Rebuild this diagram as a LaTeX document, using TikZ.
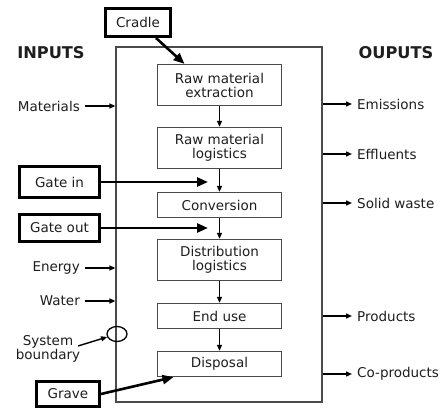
\documentclass[tikz,border=0pt]{standalone}
\usepackage{fontspec}
\setmainfont{DejaVu Sans}
\usetikzlibrary{arrows.meta,shapes.geometric}
\definecolor{boxline}{HTML}{4A4A4A}
\definecolor{ink}{HTML}{1E1E1E}
\tikzset{
  txt/.style={font=\fontsize{13.5}{14}\selectfont, text=ink, inner sep=0pt},
  head/.style={font=\fontsize{16.2}{18}\selectfont\bfseries, text=ink, inner sep=0pt},
  stage/.style={txt, draw=boxline, line width=1.2pt, minimum width=124pt, align=center},
  phase/.style={txt, draw=black, line width=3pt, align=center},
  flow/.style={draw=black, line width=1.4pt, -{Triangle[length=6pt,width=5pt]}},
  bigflow/.style={draw=black, line width=2.6pt, -{Triangle[length=11pt,width=9pt]}},
}
\begin{document}
\begin{tikzpicture}[x=1pt,y=-1pt]
\useasboundingbox (0,0) rectangle (440,409);
\fill[white] (0,0) rectangle (440,409);

% system boundary
\node[draw=boxline, line width=1.2pt, minimum width=206pt, minimum height=355pt, inner sep=0pt] (sys) at (219,224.5) {};

% life-cycle stages
\node[stage, minimum height=41pt] (ext)  at (219.5,85)  {Raw material\\extraction};
\node[stage, minimum height=41pt] (log)  at (219.5,148) {Raw material\\logistics};
\node[stage, minimum height=25pt] (conv) at (219.5,205) {Conversion};
\node[stage, minimum height=41pt] (dist) at (219.5,260) {Distribution\\logistics};
\node[stage, minimum height=25pt] (use)  at (219.5,316) {End use};
\node[stage, minimum height=25pt] (disp) at (219.5,364) {Disposal};

\draw[flow] (ext)  -- (log);
\draw[flow] (log)  -- (conv);
\draw[flow] (conv) -- (dist);
\draw[flow] (dist) -- (use);
\draw[flow] (use)  -- (disp);

% headings
\node[head] (inh)  at (51,53)  {INPUTS};
\node[head] (outh) at (396,53) {OUPUTS};

% inputs
\node[txt, anchor=east] (mat) at (80,106) {Materials};
\node[txt, anchor=east] (eng) at (80,268) {Energy};
\node[txt, anchor=east] (wat) at (80,301) {Water};
\foreach \n in {mat,eng,wat}
  \draw[flow] ([xshift=5pt]\n.east) -- (\n.east -| sys.west);

% outputs
\node[txt, anchor=west] (emi) at (357,104) {Emissions};
\node[txt, anchor=west] (eff) at (357,154) {Effluents};
\node[txt, anchor=west] (sol) at (357,203) {Solid waste};
\node[txt, anchor=west] (pro) at (357,316) {Products};
\node[txt, anchor=west] (cop) at (357,374) {Co-products};
\foreach \n in {emi,eff,sol,pro,cop}
  \draw[flow] (\n.west -| sys.east) -- ([xshift=-5pt]\n.west);

% system boundary marker
\node[draw=black, line width=1.3pt, ellipse, minimum width=20pt, minimum height=15pt, inner sep=0pt] (bnd) at (117,334) {};
\node[txt, align=center] (sbl) at (48,349) {System\\boundary};
\coordinate (sbtail) at (78,346);
\draw[flow] (sbtail) -- (bnd);

% scope boundaries
\node[phase, minimum width=65pt, minimum height=28pt] (cradle)  at (138,22.5) {Cradle};
\node[phase, minimum width=80pt, minimum height=31pt] (gatein)  at (59.5,182) {Gate in};
\node[phase, minimum width=80pt, minimum height=27pt] (gateout) at (59.5,228) {Gate out};
\node[phase, minimum width=63pt, minimum height=25pt] (grave)   at (68,394)   {Grave};

\coordinate (gintip)  at (208,182);
\coordinate (gouttip) at (208,228);
\draw[bigflow] ([xshift=18pt]cradle.south) -- ([xshift=-35pt]ext.north);
\draw[bigflow] (gatein.east)  -- (gintip);
\draw[bigflow] (gateout.east) -- (gouttip);
\draw[bigflow] (grave.east)   -- ([xshift=-46pt]disp.south);
\end{tikzpicture}
\end{document}
